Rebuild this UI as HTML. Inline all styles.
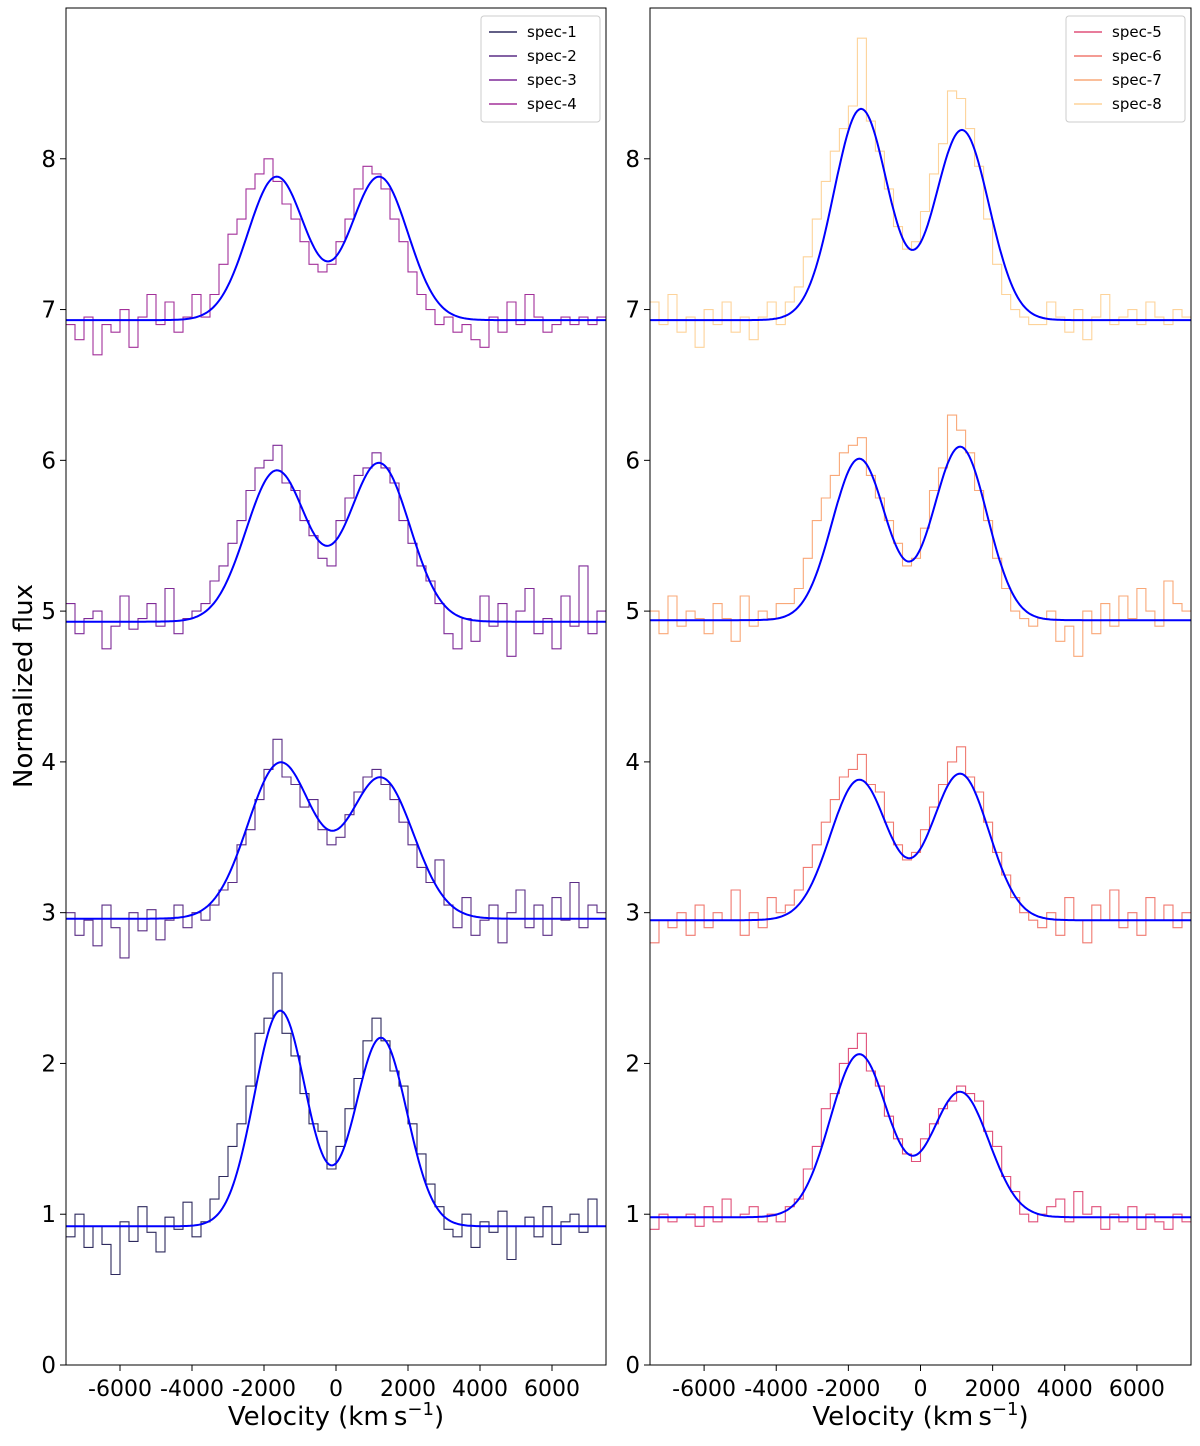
<!DOCTYPE html>
<html><head><meta charset="utf-8"><style>
body{margin:0;background:#fff}
svg text{font-family:"DejaVu Sans","Liberation Sans",sans-serif}
</style></head><body>
<svg id="chart" width="1200" height="1441" viewBox="0 0 1200 1441" xmlns="http://www.w3.org/2000/svg"></svg>
<script>
const categories=["spec-1","spec-2","spec-3","spec-4","spec-5","spec-6","spec-7","spec-8"];
const colors=["#2e2a5e","#5b2e86","#7f2a98","#a3309a","#e0507a","#f07a70","#f9a878","#fdd39a"];
const panelOf=[0,0,0,0,1,1,1,1];
const binStart=-7500, binWidth=250;
const xTicks=[-6000,-4000,-2000,0,2000,4000,6000];
const yTicks=[0,1,2,3,4,5,6,7,8];
const spec1=[0.85,1.0,0.78,0.92,0.80,0.60,0.95,0.82,1.05,0.88,0.75,0.98,0.90,1.08,0.85,0.95,1.1,1.25,1.45,1.6,1.85,2.2,2.3,2.6,2.2,2.05,1.8,1.6,1.55,1.3,1.45,1.7,1.9,2.15,2.3,2.15,1.95,1.85,1.6,1.4,1.2,1.05,0.9,0.85,1.0,0.78,0.95,0.88,1.02,0.70,0.92,0.98,0.85,1.05,0.80,0.95,1.0,0.88,1.1,0.92];
const spec2=[3.0,2.85,2.95,2.78,3.05,2.9,2.7,3.0,2.88,3.02,2.82,2.95,3.05,2.9,3.0,2.95,3.05,3.15,3.2,3.45,3.55,3.75,3.95,4.15,3.9,3.85,3.7,3.75,3.55,3.45,3.5,3.65,3.8,3.9,3.95,3.85,3.75,3.6,3.45,3.3,3.2,3.35,3.05,2.9,3.1,2.85,2.95,3.05,2.8,3.0,3.15,2.9,3.05,2.85,3.1,2.95,3.2,2.9,3.05,3.0];
const spec3=[5.05,4.85,4.95,5.0,4.75,4.9,5.1,4.88,4.95,5.05,4.9,5.15,4.85,4.95,5.0,5.05,5.2,5.3,5.45,5.6,5.8,5.95,6.0,6.1,5.85,5.8,5.6,5.5,5.35,5.3,5.6,5.75,5.9,5.95,6.05,5.95,5.85,5.6,5.45,5.3,5.2,5.05,4.85,4.75,4.95,4.8,5.1,4.9,5.05,4.7,5.0,5.15,4.85,4.95,4.75,5.1,4.9,5.3,4.85,5.0];
const spec4=[6.9,6.8,6.95,6.7,6.9,6.85,7.0,6.75,6.95,7.1,6.9,7.05,6.85,6.95,7.1,6.95,7.1,7.3,7.5,7.6,7.8,7.9,8.0,7.85,7.7,7.6,7.45,7.3,7.25,7.3,7.45,7.6,7.8,7.95,7.9,7.8,7.6,7.45,7.25,7.1,7.0,6.9,6.95,6.85,6.9,6.8,6.75,6.95,6.85,7.05,6.9,7.1,6.95,6.85,6.9,6.95,6.9,6.95,6.9,6.95];
const spec5=[0.9,1.0,0.95,0.98,1.0,0.92,1.05,0.95,1.1,0.98,1.0,1.05,0.95,1.0,0.95,1.05,1.1,1.3,1.45,1.7,1.8,2.0,2.1,2.2,1.95,1.85,1.65,1.5,1.4,1.35,1.5,1.6,1.7,1.75,1.85,1.8,1.75,1.55,1.45,1.25,1.15,1.0,0.95,1.0,1.05,1.1,0.95,1.15,1.0,1.05,0.9,1.0,0.95,1.05,0.9,1.0,0.95,0.9,1.0,0.95];
const spec6=[2.8,2.95,2.9,3.0,2.85,3.05,2.9,3.0,2.95,3.15,2.85,3.0,2.9,3.1,3.0,3.05,3.15,3.3,3.45,3.6,3.75,3.9,3.95,4.05,3.85,3.8,3.6,3.45,3.35,3.4,3.55,3.7,3.85,4.0,4.1,3.9,3.8,3.6,3.4,3.25,3.1,3.0,2.95,2.9,3.0,2.85,3.1,2.95,2.8,3.05,2.95,3.15,2.9,3.0,2.85,3.1,2.95,3.05,2.9,3.0];
const spec7=[5.0,4.85,5.1,4.9,5.0,4.95,4.85,5.05,4.95,4.8,5.1,4.9,5.0,4.95,5.05,5.05,5.15,5.35,5.6,5.75,5.9,6.05,6.1,6.15,5.9,5.75,5.6,5.45,5.3,5.35,5.55,5.8,5.95,6.3,6.2,6.05,5.8,5.6,5.35,5.15,5.0,4.95,4.9,4.95,5.0,4.8,4.9,4.7,5.0,4.85,5.05,4.9,5.1,4.95,5.15,5.0,4.9,5.2,5.05,5.0];
const spec8=[7.05,6.9,7.1,6.85,6.95,6.75,7.0,6.9,7.05,6.85,6.95,6.8,6.95,7.05,6.9,7.05,7.15,7.35,7.6,7.85,8.05,8.2,8.35,8.8,8.25,8.05,7.8,7.55,7.4,7.45,7.65,7.9,8.1,8.45,8.4,8.2,7.95,7.6,7.3,7.1,7.0,6.95,6.9,6.9,7.05,6.95,6.85,7.0,6.8,6.95,7.1,6.9,6.95,7.0,6.9,7.05,6.95,6.9,7.0,6.95];
const spectra=[spec1,spec2,spec3,spec4,spec5,spec6,spec7,spec8];
// fit parameters: baseline, amp1, center1, sigma1, amp2, center2, sigma2
const fitBase=[0.92,2.96,4.93,6.93,0.98,2.95,4.94,6.93];
const fitAmp1=[1.43,1.03,1.0,0.95,1.08,0.93,1.07,1.40];
const fitCen1=[-1550,-1550,-1650,-1650,-1700,-1700,-1700,-1650];
const fitSig1=[720,900,850,800,800,800,750,750];
const fitAmp2=[1.25,0.93,1.05,0.95,0.83,0.97,1.15,1.26];
const fitCen2=[1250,1250,1200,1200,1100,1100,1100,1150];
const fitSig2=[720,900,850,800,800,800,750,750];

const NS="http://www.w3.org/2000/svg";
const svg=document.getElementById('chart');
const panels=[{x0:66,x1:606},{x0:650,x1:1191}];
const yTop=8,yBot=1365,yMin=0,yMax=9,xMin=-7500,xMax=7500;
function sx(p,v){return panels[p].x0+(v-xMin)/(xMax-xMin)*(panels[p].x1-panels[p].x0);}
function sy(v){return yBot-(v-yMin)/(yMax-yMin)*(yBot-yTop);}
function mk(tag,attrs){const e=document.createElementNS(NS,tag);for(const k in attrs)e.setAttribute(k,attrs[k]);return e;}

panels.forEach((pn,p)=>{
  const g=mk('g',{});
  
  
  svg.appendChild(g);
  const clipId='clip'+p;
  const cp=mk('clipPath',{id:clipId});cp.appendChild(mk('rect',{x:pn.x0,y:yTop,width:pn.x1-pn.x0,height:yBot-yTop}));g.appendChild(cp);
  const series=mk('g',{'clip-path':'url(#'+clipId+')'});
  
  
  g.appendChild(series);
  spectra.forEach((d,s)=>{
    if(panelOf[s]!==p)return;
    let path='';
    d.forEach((v,i)=>{
      const xa=sx(p,binStart+i*binWidth),xb=sx(p,binStart+(i+1)*binWidth),y=sy(v);
      path+=(i===0?'M':'L')+xa.toFixed(1)+','+y.toFixed(1)+'L'+xb.toFixed(1)+','+y.toFixed(1);
    });
    const pe=mk('path',{d:path,fill:'none',stroke:colors[s],'stroke-width':1.1});
    
    
    series.appendChild(pe);
    let fp='';
    for(let v=xMin;v<=xMax;v+=50){
      const f=fitBase[s]+fitAmp1[s]*Math.exp(-Math.pow(v-fitCen1[s],2)/(2*fitSig1[s]*fitSig1[s]))+fitAmp2[s]*Math.exp(-Math.pow(v-fitCen2[s],2)/(2*fitSig2[s]*fitSig2[s]));
      fp+=(v===xMin?'M':'L')+sx(p,v).toFixed(1)+','+sy(f).toFixed(1);
    }
    const fe=mk('path',{d:fp,fill:'none',stroke:'#0000ff','stroke-width':2});
    
    
    series.appendChild(fe);
  });
  const fr=mk('rect',{x:pn.x0,y:yTop,width:pn.x1-pn.x0,height:yBot-yTop,fill:'none',stroke:'#000','stroke-width':1});
  
  
  g.appendChild(fr);
  xTicks.forEach(t=>{
    const x=sx(p,t);
    g.appendChild(mk('line',{x1:x,x2:x,y1:yBot,y2:yBot+6,stroke:'#000'}));
    const tx=mk('text',{x:x,y:yBot+31,'text-anchor':'middle','font-size':22});
    
    
    tx.textContent=t<0?'-'+Math.abs(t):String(t);
    g.appendChild(tx);
  });
  yTicks.forEach(t=>{
    const y=sy(t);
    g.appendChild(mk('line',{x1:pn.x0-6,x2:pn.x0,y1:y,y2:y,stroke:'#000'}));
    const tx=mk('text',{x:pn.x0-10,y:y+8,'text-anchor':'end','font-size':23});
    
    
    tx.textContent=String(t);
    g.appendChild(tx);
  });
  const xl=mk('text',{x:(pn.x0+pn.x1)/2,y:1425,'text-anchor':'middle','font-size':26});
  
  
  xl.innerHTML='Velocity (km\u2009s<tspan dy="-10" font-size="18">\u22121</tspan><tspan dy="10">)</tspan>';
  g.appendChild(xl);
  const lx=pn.x1-125,ly=16;
  const lg=mk('g',{});
  
  
  g.appendChild(lg);
  lg.appendChild(mk('rect',{x:lx,y:ly,width:119,height:106,rx:3,fill:'#fff',stroke:'#ccc'}));
  let k=0;
  categories.forEach((c,s)=>{
    if(panelOf[s]!==p)return;
    const yy=ly+16+k*24;
    const en=mk('g',{});
    
    
    en.appendChild(mk('line',{x1:lx+8,x2:lx+36,y1:yy,y2:yy,stroke:colors[s],'stroke-width':1.5}));
    const t=mk('text',{x:lx+46,y:yy+5,'font-size':15});t.textContent=c;en.appendChild(t);
    lg.appendChild(en);k++;
  });
});
const yl=mk('text',{x:32,y:686,'text-anchor':'middle','font-size':26,transform:'rotate(-90 32 686)'});


yl.textContent='Normalized flux';
svg.appendChild(yl);
</script>
</body></html>
